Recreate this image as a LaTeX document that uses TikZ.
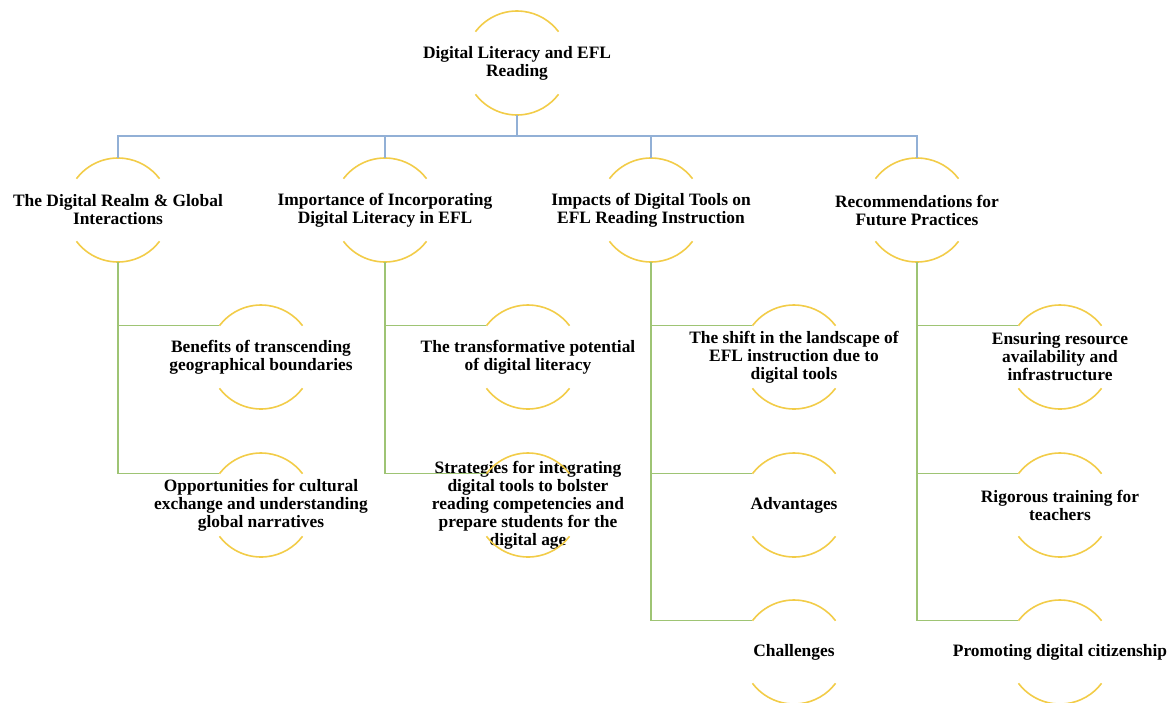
\documentclass[tikz,border=0pt]{standalone}
\usepackage{fontspec}
\setmainfont{Liberation Serif}
\usetikzlibrary{calc}

\definecolor{ringyellow}{RGB}{242,204,72}
\definecolor{trunkblue}{RGB}{146,176,214}
\definecolor{branchgreen}{RGB}{158,196,116}

\begin{document}
\begin{tikzpicture}[
    x=1pt, y=1pt,
    hub/.style={circle, minimum size=104pt, inner sep=0pt, outer sep=0pt},
    lbl/.style={font=\fontsize{17.4}{18}\selectfont\bfseries, align=center,
                text=black, inner sep=0pt},
    ring/.style={draw=ringyellow, line width=1.6pt},
    trunk/.style={draw=trunkblue, line width=1.2pt},
    branch/.style={draw=branchgreen, line width=1.2pt},
]
\useasboundingbox (0,0) rectangle (1172,-702);

% ===================== ROOT =====================
\node[hub, label={[lbl]center:{Digital Literacy and EFL\\Reading}}] (root) at (517,-63) {};

% ===================== FIRST LEVEL =====================
\node[hub, label={[lbl]center:{The Digital Realm \& Global\\Interactions}}] (A) at (118,-210) {};
\node[hub, label={[lbl]center:{Importance of Incorporating\\Digital Literacy in EFL}}] (B) at (385,-210) {};
\node[hub, label={[lbl]center:{Impacts of Digital Tools on\\EFL Reading Instruction}}] (C) at (651,-210) {};
\node[hub, label={[lbl]center:{Recommendations for\\Future Practices}}] (D) at (917,-210) {};

% ===================== SECOND LEVEL =====================
\node[hub, label={[lbl]center:{Benefits of transcending\\geographical boundaries}}] (A1) at ($(A)+(143,-147)$) {};
\node[hub, label={[lbl]center:{Opportunities for cultural\\exchange and understanding\\global narratives}}] (A2) at ($(A)+(143,-295)$) {};

\node[hub, label={[lbl]center:{The transformative potential\\of digital literacy}}] (B1) at ($(B)+(143,-147)$) {};
\node[hub, label={[lbl]center:{Strategies for integrating\\digital tools to bolster\\reading competencies and\\prepare students for the\\digital age}}] (B2) at ($(B)+(143,-295)$) {};

\node[hub, label={[lbl]center:{The shift in the landscape of\\EFL instruction due to\\digital tools}}] (C1) at ($(C)+(143,-147)$) {};
\node[hub, label={[lbl]center:{Advantages}}] (C2) at ($(C)+(143,-295)$) {};
\node[hub, label={[lbl]center:{Challenges}}] (C3) at ($(C)+(143,-442)$) {};

\node[hub, label={[lbl]center:{Ensuring resource\\availability and\\infrastructure}}] (D1) at ($(D)+(143,-147)$) {};
\node[hub, label={[lbl]center:{Rigorous training for\\teachers}}] (D2) at ($(D)+(143,-295)$) {};
\node[hub, label={[lbl]center:{Promoting digital citizenship}}] (D3) at ($(D)+(143,-442)$) {};

% Open rings: an upper and a lower arc round every topic
\foreach \n in {root, A, B, C, D, A1, A2, B1, B2, C1, C2, C3, D1, D2, D3} {
    \draw[ring] (\n.143) arc[start angle=143, end angle=37, radius=52pt];
    \draw[ring] (\n.217) arc[start angle=217, end angle=323, radius=52pt];
}

% ===================== CONNECTORS =====================
\coordinate (bus) at ($(root.south)+(0,-21)$);
\foreach \c in {A, B, C, D} {
    \draw[trunk] (root.south) -- (bus) -| (\c.north);
}

\foreach \p/\k in {A/A1, A/A2, B/B1, B/B2, C/C1, C/C2, C/C3, D/D1, D/D2, D/D3} {
    \draw[branch] (\p.south) |- (\k.143);
}

\end{tikzpicture}
\end{document}
